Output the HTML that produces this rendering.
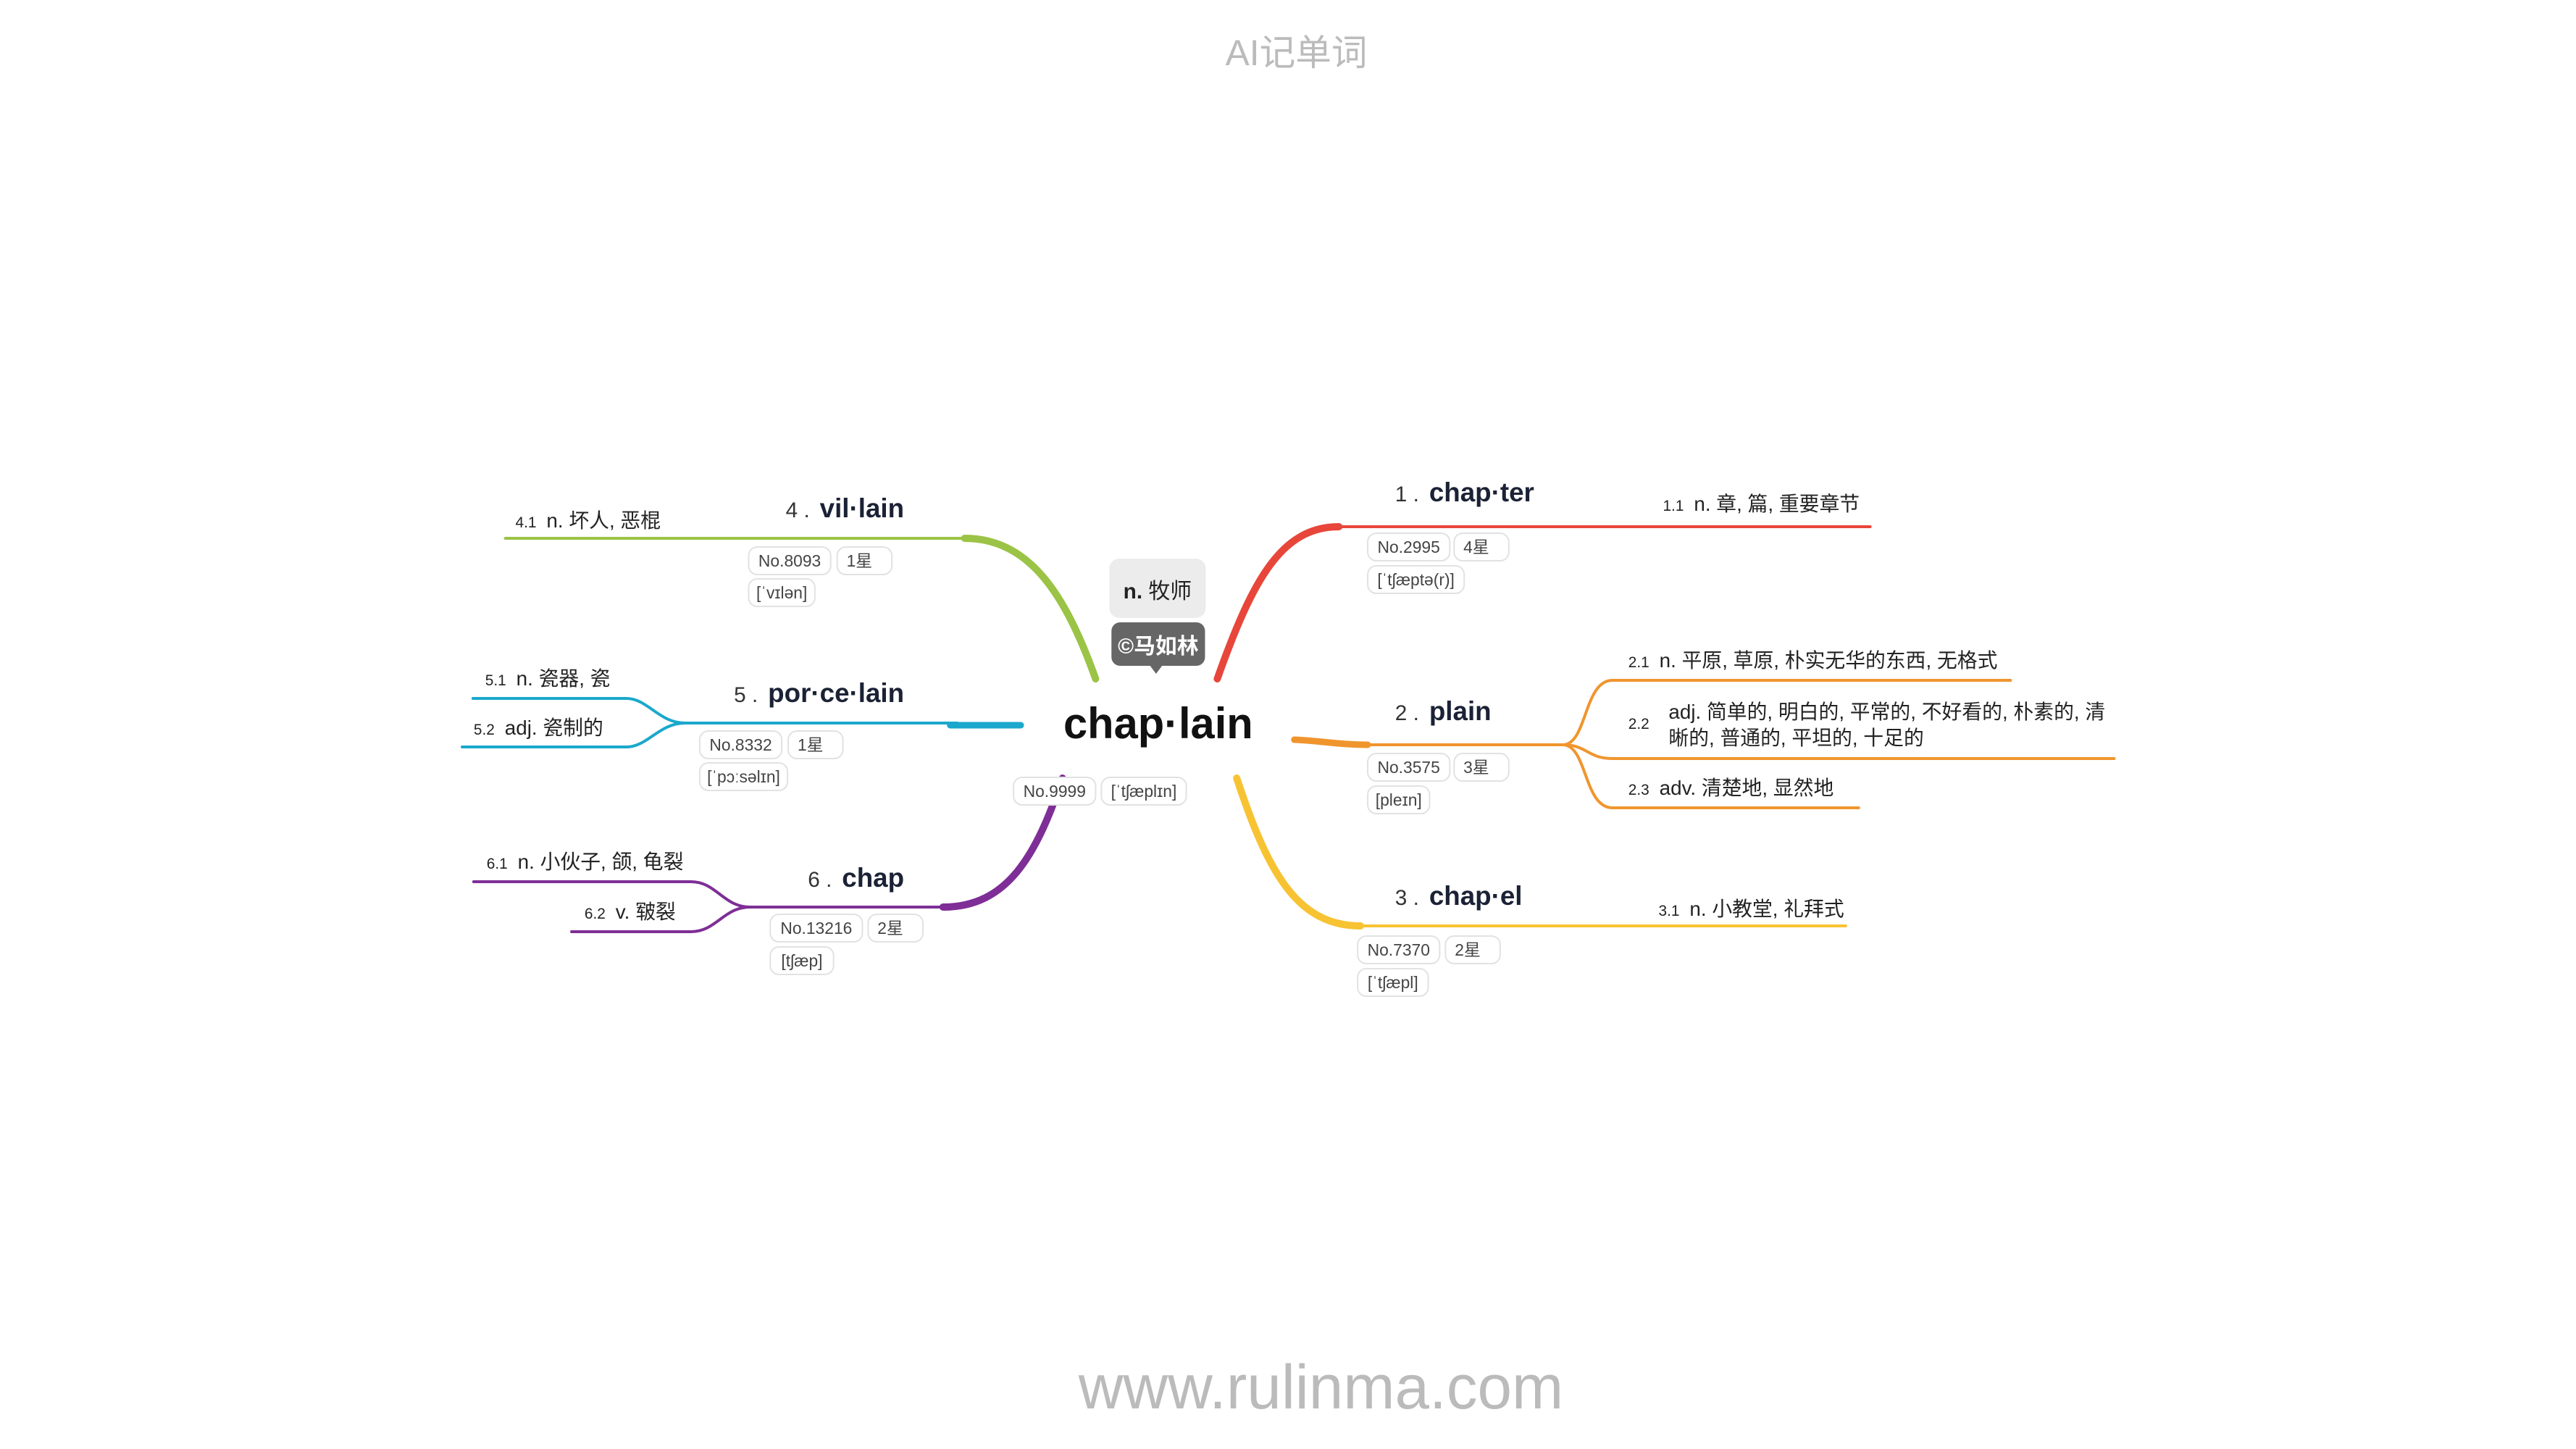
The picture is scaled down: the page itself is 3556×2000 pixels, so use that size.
<!DOCTYPE html>
<html><head><meta charset="utf-8"><style>
html,body{margin:0;padding:0;background:#fff;}
svg{display:block;}
text{font-family:"Liberation Sans","Noto Sans CJK SC",sans-serif;}
.lbl{font-weight:bold;font-size:37px;fill:#1b2235;}
.num{font-size:30px;fill:#333;}
.sn{font-size:21px;fill:#222;}
.st{font-size:28px;fill:#222;}
.pt{font-size:23px;fill:#444;}
.pill{fill:#fff;stroke:#e2e2e2;stroke-width:2;}
</style></head><body>
<svg width="3556" height="2000" viewBox="0 0 3556 2000" xmlns="http://www.w3.org/2000/svg">
<rect width="3556" height="2000" fill="#fff"/>
<g transform="scale(0.9937,1)">
<text x="1801" y="90" font-size="50" fill="#bbb" text-anchor="middle">AI记单词</text>
<text x="1835" y="1944" font-size="86" fill="#bbb" text-anchor="middle">www.rulinma.com</text>

<g fill="none" stroke-linecap="round">
<path d="M1691,937 C1740,800 1780,727 1860,727" stroke="#e8463a" stroke-width="10"/>
<path d="M1850,727 L2598,727" stroke="#e8463a" stroke-width="4"/>
<path d="M1798,1021 C1830,1022 1860,1028 1900,1028" stroke="#f0952e" stroke-width="9"/>
<path d="M1895,1028 L2171,1028" stroke="#f0952e" stroke-width="4"/>
<path d="M2171,1028 C2205,1028 2200,939 2240,939 L2793,939" stroke="#f0952e" stroke-width="4"/>
<path d="M2171,1028 C2205,1028 2205,1047 2240,1047 L2937,1047" stroke="#f0952e" stroke-width="4"/>
<path d="M2171,1028 C2205,1028 2200,1115 2240,1115 L2582,1115" stroke="#f0952e" stroke-width="4"/>
<path d="M1718,1074 C1760,1200 1800,1278 1890,1278" stroke="#f7c333" stroke-width="10"/>
<path d="M1880,1278 L2564,1278" stroke="#f7c333" stroke-width="4"/>
<path d="M1522,937 C1480,820 1430,743 1340,743" stroke="#9bc346" stroke-width="10"/>
<path d="M1350,743 L702,743" stroke="#9bc346" stroke-width="4"/>
<path d="M1418,1001 L1320,1001" stroke="#1ba8cc" stroke-width="9"/>
<path d="M1330,998 L952,998" stroke="#1ba8cc" stroke-width="4"/>
<path d="M952,998 C915,998 900,964 870,964 L657,964" stroke="#1ba8cc" stroke-width="4"/>
<path d="M952,998 C915,998 900,1031 870,1031 L642,1031" stroke="#1ba8cc" stroke-width="4"/>
<path d="M1476,1074 C1440,1180 1400,1252 1310,1252" stroke="#7e2e96" stroke-width="10"/>
<path d="M1320,1252 L1042,1252" stroke="#7e2e96" stroke-width="4"/>
<path d="M1042,1252 C1005,1252 995,1217 960,1217 L658,1217" stroke="#7e2e96" stroke-width="4"/>
<path d="M1042,1252 C1005,1252 995,1286 960,1286 L794,1286" stroke="#7e2e96" stroke-width="4"/>
</g>

<rect x="1541" y="771" width="134" height="82" rx="14" fill="#ececec"/>
<text x="1608" y="826" font-size="30" fill="#222" text-anchor="middle"><tspan font-weight="bold">n.</tspan> 牧师</text>
<rect x="1544" y="859" width="130" height="60" rx="12" fill="#666"/>
<path d="M1597,918 L1606,930 L1615,918 Z" fill="#666"/>
<text x="1609" y="902" font-size="30" fill="#fff" text-anchor="middle" font-weight="bold">©马如林</text>
<text x="1609" y="1019" font-size="60" font-weight="bold" fill="#111" text-anchor="middle">chap·lain</text>
<rect x="1408" y="1073" width="114" height="38" rx="12" class="pill"/>
<text x="1465" y="1100" class="pt" text-anchor="middle">No.9999</text>
<rect x="1530" y="1073" width="118" height="38" rx="12" class="pill"/>
<text x="1589" y="1100" class="pt" text-anchor="middle">[ˈtʃæplɪn]</text>

<text x="1938" y="692"><tspan class="num">1 .</tspan><tspan class="lbl" dx="14">chap·ter</tspan></text>
<text x="2310" y="705"><tspan class="sn">1.1</tspan><tspan class="st" dx="14">n. 章, 篇, 重要章节</tspan></text>
<rect x="1900" y="736" width="114" height="38" rx="12" class="pill"/><text x="1957" y="763" class="pt" text-anchor="middle">No.2995</text>
<rect x="2020" y="736" width="76" height="38" rx="12" class="pill"/><text x="2033" y="763" class="pt">4星</text>
<rect x="1900" y="781" width="134" height="38" rx="12" class="pill"/><text x="1967" y="808" class="pt" text-anchor="middle">[ˈtʃæptə(r)]</text>

<text x="1938" y="994"><tspan class="num">2 .</tspan><tspan class="lbl" dx="14">plain</tspan></text>
<text x="2262" y="921"><tspan class="sn">2.1</tspan><tspan class="st" dx="14">n. 平原, 草原, 朴实无华的东西, 无格式</tspan></text>
<text x="2262" y="1006" class="sn">2.2</text>
<text x="2318" y="992" class="st">adj. 简单的, 明白的, 平常的, 不好看的, 朴素的, 清</text>
<text x="2318" y="1028" class="st">晰的, 普通的, 平坦的, 十足的</text>
<text x="2262" y="1097"><tspan class="sn">2.3</tspan><tspan class="st" dx="14">adv. 清楚地, 显然地</tspan></text>
<rect x="1900" y="1040" width="114" height="38" rx="12" class="pill"/><text x="1957" y="1067" class="pt" text-anchor="middle">No.3575</text>
<rect x="2020" y="1040" width="76" height="38" rx="12" class="pill"/><text x="2033" y="1067" class="pt">3星</text>
<rect x="1900" y="1085" width="86" height="38" rx="12" class="pill"/><text x="1943" y="1112" class="pt" text-anchor="middle">[pleɪn]</text>

<text x="1938" y="1249"><tspan class="num">3 .</tspan><tspan class="lbl" dx="14">chap·el</tspan></text>
<text x="2304" y="1264"><tspan class="sn">3.1</tspan><tspan class="st" dx="14">n. 小教堂, 礼拜式</tspan></text>
<rect x="1886" y="1292" width="114" height="38" rx="12" class="pill"/><text x="1943" y="1319" class="pt" text-anchor="middle">No.7370</text>
<rect x="2008" y="1292" width="76" height="38" rx="12" class="pill"/><text x="2021" y="1319" class="pt">2星</text>
<rect x="1886" y="1337" width="98" height="38" rx="12" class="pill"/><text x="1935" y="1364" class="pt" text-anchor="middle">[ˈtʃæpl]</text>

<text x="1256" y="714" text-anchor="end"><tspan class="num">4 .</tspan><tspan class="lbl" dx="14">vil·lain</tspan></text>
<text x="716" y="728"><tspan class="sn">4.1</tspan><tspan class="st" dx="14">n. 坏人, 恶棍</tspan></text>
<rect x="1040" y="755" width="114" height="38" rx="12" class="pill"/><text x="1097" y="782" class="pt" text-anchor="middle">No.8093</text>
<rect x="1163" y="755" width="76" height="38" rx="12" class="pill"/><text x="1176" y="782" class="pt">1星</text>
<rect x="1040" y="799" width="92" height="38" rx="12" class="pill"/><text x="1086" y="826" class="pt" text-anchor="middle">[ˈvɪlən]</text>

<text x="1256" y="969" text-anchor="end"><tspan class="num">5 .</tspan><tspan class="lbl" dx="14">por·ce·lain</tspan></text>
<text x="674" y="946"><tspan class="sn">5.1</tspan><tspan class="st" dx="14">n. 瓷器, 瓷</tspan></text>
<text x="658" y="1014"><tspan class="sn">5.2</tspan><tspan class="st" dx="14">adj. 瓷制的</tspan></text>
<rect x="972" y="1009" width="114" height="38" rx="12" class="pill"/><text x="1029" y="1036" class="pt" text-anchor="middle">No.8332</text>
<rect x="1095" y="1009" width="76" height="38" rx="12" class="pill"/><text x="1108" y="1036" class="pt">1星</text>
<rect x="972" y="1053" width="122" height="38" rx="12" class="pill"/><text x="1033" y="1080" class="pt" text-anchor="middle">[ˈpɔːsəlɪn]</text>

<text x="1256" y="1224" text-anchor="end"><tspan class="num">6 .</tspan><tspan class="lbl" dx="14">chap</tspan></text>
<text x="676" y="1199"><tspan class="sn">6.1</tspan><tspan class="st" dx="14">n. 小伙子, 颌, 龟裂</tspan></text>
<text x="812" y="1268"><tspan class="sn">6.2</tspan><tspan class="st" dx="14">v. 皲裂</tspan></text>
<rect x="1070" y="1262" width="128" height="38" rx="12" class="pill"/><text x="1134" y="1289" class="pt" text-anchor="middle">No.13216</text>
<rect x="1206" y="1262" width="76" height="38" rx="12" class="pill"/><text x="1219" y="1289" class="pt">2星</text>
<rect x="1070" y="1307" width="88" height="38" rx="12" class="pill"/><text x="1114" y="1334" class="pt" text-anchor="middle">[tʃæp]</text>
</g>
</svg>
</body></html>
